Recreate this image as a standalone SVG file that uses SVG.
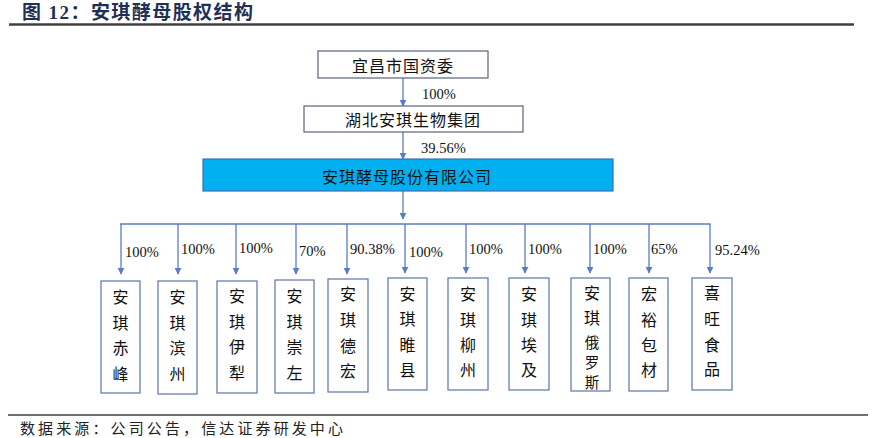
<svg xmlns="http://www.w3.org/2000/svg" width="875" height="438" viewBox="0 0 875 438">
<defs>
<style>
.bg{fill:#ffffff}
.title{font-family:"Liberation Serif","Noto Sans CJK SC",serif;font-size:19px;font-weight:bold;fill:#1f2f55}
.rule{stroke:#404040;stroke-width:2.5}
.foot{font-family:"Noto Sans CJK SC",sans-serif;font-size:15px;fill:#222}
.box{fill:#ffffff;stroke:#5a6378;stroke-width:1.2}
.cbox{fill:#ffffff;stroke:#5d74a8;stroke-width:1.2}
.main{fill:#00b0f0;stroke:#3d6fb0;stroke-width:1.2}
.lbl{font-family:"Noto Sans CJK SC",sans-serif;font-size:16px;fill:#111;text-anchor:middle;dominant-baseline:central;letter-spacing:1px}
.vch{font-family:"Noto Sans CJK SC",sans-serif;font-size:16px;fill:#111;text-anchor:middle;dominant-baseline:central}
.vsm{font-family:"Noto Sans CJK SC",sans-serif;font-size:14.5px;fill:#111;text-anchor:middle;dominant-baseline:central}
.pct{font-family:"Liberation Serif",serif;font-size:14.5px;fill:#111;dominant-baseline:central}
.ln{stroke:#5b7cc4;stroke-width:1.3;fill:none}
</style>
<marker id="ah" viewBox="0 0 10 10" refX="9" refY="5" markerWidth="7" markerHeight="7" markerUnits="userSpaceOnUse" orient="auto">
<path d="M0,0 L10,5 L0,10 z" fill="#5b7cc4"/>
</marker>
</defs>
<rect class="bg" x="0" y="0" width="875" height="438"/>
<g id="header">
<text class="title" x="22" y="19" textLength="231" lengthAdjust="spacing">图 12：安琪酵母股权结构</text>
<line class="rule" x1="9" y1="24.5" x2="854" y2="24.5"/>
</g>
<g id="connectors">
<line class="ln" x1="403" y1="78" x2="403" y2="106" marker-end="url(#ah)"/>
<line class="ln" x1="403" y1="132" x2="403" y2="159" marker-end="url(#ah)"/>
<line class="ln" x1="403" y1="191" x2="403" y2="219" marker-end="url(#ah)"/>
<line class="ln" x1="120" y1="224" x2="710.6" y2="224"/>
<line class="ln" x1="121" y1="224" x2="121" y2="274" marker-end="url(#ah)"/>
<line class="ln" x1="178" y1="224" x2="178" y2="274" marker-end="url(#ah)"/>
<line class="ln" x1="236" y1="224" x2="236" y2="274" marker-end="url(#ah)"/>
<line class="ln" x1="296" y1="224" x2="296" y2="274" marker-end="url(#ah)"/>
<line class="ln" x1="347" y1="224" x2="347" y2="274" marker-end="url(#ah)"/>
<line class="ln" x1="405" y1="224" x2="405" y2="273" marker-end="url(#ah)"/>
<line class="ln" x1="466" y1="224" x2="466" y2="273" marker-end="url(#ah)"/>
<line class="ln" x1="525" y1="224" x2="525" y2="273" marker-end="url(#ah)"/>
<line class="ln" x1="590" y1="224" x2="590" y2="273" marker-end="url(#ah)"/>
<line class="ln" x1="649" y1="224" x2="649" y2="273" marker-end="url(#ah)"/>
<line class="ln" x1="710" y1="224" x2="710" y2="273" marker-end="url(#ah)"/>
<text class="pct" x="422" y="94">100%</text>
<text class="pct" x="421" y="148">39.56%</text>
<text class="pct" x="125" y="252">100%</text>
<text class="pct" x="181" y="249">100%</text>
<text class="pct" x="239" y="248">100%</text>
<text class="pct" x="299" y="251">70%</text>
<text class="pct" x="350" y="249">90.38%</text>
<text class="pct" x="409" y="252">100%</text>
<text class="pct" x="469" y="249">100%</text>
<text class="pct" x="528" y="249">100%</text>
<text class="pct" x="593" y="249">100%</text>
<text class="pct" x="651" y="249">65%</text>
<text class="pct" x="715" y="250">95.24%</text>
</g>
<g id="n-yichang">
<rect class="box" x="318" y="51" width="170" height="27"/>
<text class="lbl" x="403" y="65">宜昌市国资委</text>
</g>
<g id="n-hubei">
<rect class="box" x="304" y="106" width="219" height="26"/>
<text class="lbl" x="413" y="119">湖北安琪生物集团</text>
</g>
<g id="n-angel">
<rect class="main" x="203" y="159" width="410" height="32"/>
<text class="lbl" x="407" y="176">安琪酵母股份有限公司</text>
</g>
<g id="c1">
<rect class="cbox" x="101" y="281" width="39" height="112"/>
<text class="vch" x="120.5" y="296">安</text><text class="vch" x="120.5" y="322">琪</text><text class="vch" x="120.5" y="347">赤</text><text class="vch" x="120.5" y="373">峰</text>
</g>
<g id="c2">
<rect class="cbox" x="158" y="281" width="39" height="113"/>
<text class="vch" x="177.5" y="296">安</text><text class="vch" x="177.5" y="322">琪</text><text class="vch" x="177.5" y="347">滨</text><text class="vch" x="177.5" y="373">州</text>
</g>
<g id="c3">
<rect class="cbox" x="217" y="281" width="40" height="112"/>
<text class="vch" x="237" y="295">安</text><text class="vch" x="237" y="321">琪</text><text class="vch" x="237" y="346">伊</text><text class="vch" x="237" y="372">犁</text>
</g>
<g id="c4">
<rect class="cbox" x="275" y="280" width="39" height="113"/>
<text class="vch" x="294.5" y="295">安</text><text class="vch" x="294.5" y="321">琪</text><text class="vch" x="294.5" y="346">崇</text><text class="vch" x="294.5" y="372">左</text>
</g>
<g id="c5">
<rect class="cbox" x="328" y="279" width="40" height="113"/>
<text class="vch" x="348" y="293">安</text><text class="vch" x="348" y="319">琪</text><text class="vch" x="348" y="345">德</text><text class="vch" x="348" y="370">宏</text>
</g>
<g id="c6">
<rect class="cbox" x="388" y="278" width="39" height="112"/>
<text class="vch" x="407.5" y="293">安</text><text class="vch" x="407.5" y="318">琪</text><text class="vch" x="407.5" y="344">睢</text><text class="vch" x="407.5" y="369">县</text>
</g>
<g id="c7">
<rect class="cbox" x="448" y="278" width="40" height="112"/>
<text class="vch" x="468" y="293">安</text><text class="vch" x="468" y="319">琪</text><text class="vch" x="468" y="344">柳</text><text class="vch" x="468" y="369">州</text>
</g>
<g id="c8">
<rect class="cbox" x="509" y="278" width="40" height="112"/>
<text class="vch" x="529" y="293">安</text><text class="vch" x="529" y="319">琪</text><text class="vch" x="529" y="344">埃</text><text class="vch" x="529" y="369">及</text>
</g>
<g id="c9">
<rect class="cbox" x="571" y="278" width="39" height="113"/>
<text class="vch" x="592" y="292">安</text><text class="vch" x="592" y="317">琪</text><text class="vsm" x="592" y="341">俄</text><text class="vsm" x="592" y="361">罗</text><text class="vsm" x="592" y="381">斯</text>
</g>
<g id="c10">
<rect class="cbox" x="629" y="278" width="39" height="113"/>
<text class="vch" x="649" y="293">宏</text><text class="vch" x="649" y="319">裕</text><text class="vch" x="649" y="344">包</text><text class="vch" x="649" y="369">材</text>
</g>
<g id="c11">
<rect class="cbox" x="692" y="278" width="40" height="112"/>
<text class="vch" x="712" y="292">喜</text><text class="vch" x="712" y="318">旺</text><text class="vch" x="712" y="344">食</text><text class="vch" x="712" y="368">品</text>
</g>
<g id="footer">
<line class="rule" x1="8" y1="415" x2="868" y2="415" style="stroke-width:1.5"/>
<text class="foot" x="20" y="434" textLength="323" lengthAdjust="spacing">数据来源：公司公告，信达证券研发中心</text>
</g>
</svg>
